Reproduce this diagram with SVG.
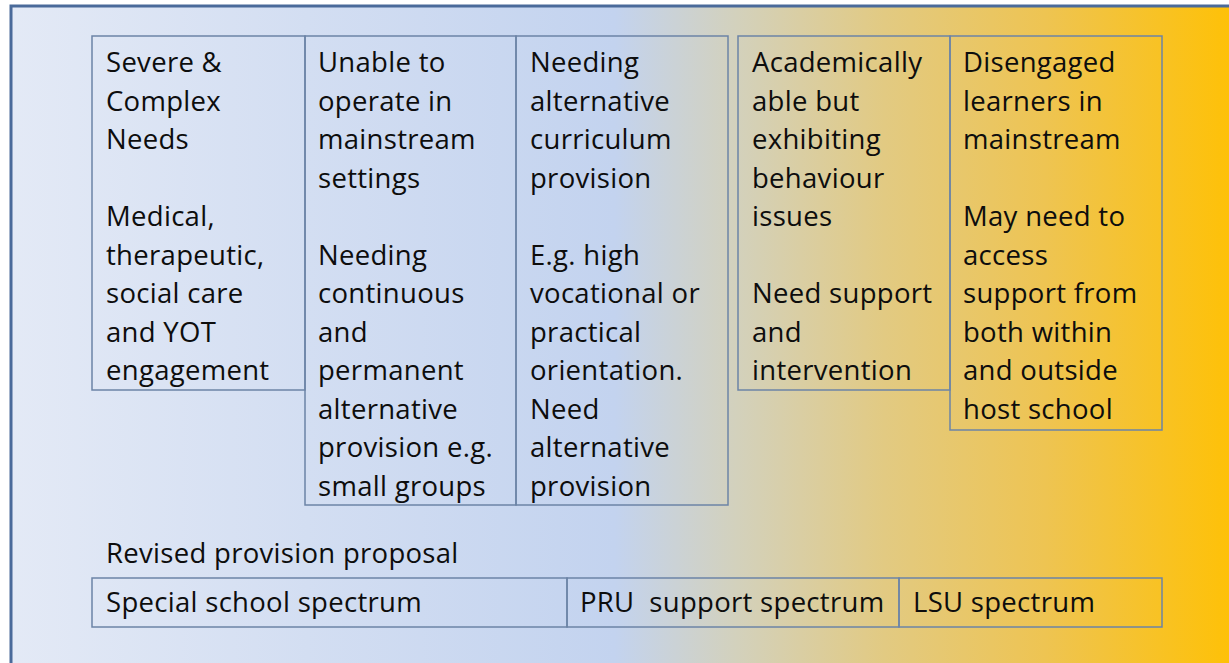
<svg xmlns="http://www.w3.org/2000/svg" width="1229" height="663" viewBox="0 0 1229 663">
  <defs>
    <linearGradient id="bg" x1="0" y1="0" x2="1229" y2="0" gradientUnits="userSpaceOnUse">
      <stop offset="0" stop-color="#E4EAF6"/>
      <stop offset="0.25" stop-color="#D3DEF2"/>
      <stop offset="0.5" stop-color="#C3D3EF"/>
      <stop offset="0.6" stop-color="#D3D1BC"/>
      <stop offset="0.72" stop-color="#E2CA82"/>
      <stop offset="0.85" stop-color="#EEC452"/>
      <stop offset="1" stop-color="#FEC108"/>
    </linearGradient>
  </defs>
  <style>
    .box { fill: none; stroke: #6C84A6; stroke-width: 1.5; }
    .t { font-family: "Open Sans", "DejaVu Sans", sans-serif; font-size: 27.5px; letter-spacing: 0.3px; fill: #0d0d0d; }
  </style>
  <rect x="0" y="0" width="1229" height="663" fill="#FFFFFF"/>
  <rect x="11" y="6" width="1240" height="680" fill="url(#bg)" stroke="#4A6A9A" stroke-width="3"/>

  <g id="node1">
    <rect class="box" x="92" y="36" width="213" height="354"/>
    <text class="t">
      <tspan x="106" y="72">Severe &amp;</tspan>
      <tspan x="106" y="110.5">Complex</tspan>
      <tspan x="106" y="149">Needs</tspan>
      <tspan x="106" y="226">Medical,</tspan>
      <tspan x="106" y="264.5">therapeutic,</tspan>
      <tspan x="106" y="303">social care</tspan>
      <tspan x="106" y="341.5">and YOT</tspan>
      <tspan x="106" y="380">engagement</tspan>
    </text>
  </g>
  <g id="node2">
    <rect class="box" x="305" y="36" width="211" height="469"/>
    <text class="t">
      <tspan x="318" y="72">Unable to</tspan>
      <tspan x="318" y="110.5">operate in</tspan>
      <tspan x="318" y="149">mainstream</tspan>
      <tspan x="318" y="187.5">settings</tspan>
      <tspan x="318" y="264.5">Needing</tspan>
      <tspan x="318" y="303">continuous</tspan>
      <tspan x="318" y="341.5">and</tspan>
      <tspan x="318" y="380">permanent</tspan>
      <tspan x="318" y="418.5">alternative</tspan>
      <tspan x="318" y="457">provision e.g.</tspan>
      <tspan x="318" y="495.5">small groups</tspan>
    </text>
  </g>
  <g id="node3">
    <rect class="box" x="516" y="36" width="212" height="469"/>
    <text class="t">
      <tspan x="530" y="72">Needing</tspan>
      <tspan x="530" y="110.5">alternative</tspan>
      <tspan x="530" y="149">curriculum</tspan>
      <tspan x="530" y="187.5">provision</tspan>
      <tspan x="530" y="264.5">E.g. high</tspan>
      <tspan x="530" y="303">vocational or</tspan>
      <tspan x="530" y="341.5">practical</tspan>
      <tspan x="530" y="380">orientation.</tspan>
      <tspan x="530" y="418.5">Need</tspan>
      <tspan x="530" y="457">alternative</tspan>
      <tspan x="530" y="495.5">provision</tspan>
    </text>
  </g>
  <g id="node4">
    <rect class="box" x="738" y="36" width="212" height="354"/>
    <text class="t">
      <tspan x="752" y="72">Academically</tspan>
      <tspan x="752" y="110.5">able but</tspan>
      <tspan x="752" y="149">exhibiting</tspan>
      <tspan x="752" y="187.5">behaviour</tspan>
      <tspan x="752" y="226">issues</tspan>
      <tspan x="752" y="303">Need support</tspan>
      <tspan x="752" y="341.5">and</tspan>
      <tspan x="752" y="380">intervention</tspan>
    </text>
  </g>
  <g id="node5">
    <rect class="box" x="950" y="36" width="212" height="394"/>
    <text class="t">
      <tspan x="963" y="72">Disengaged</tspan>
      <tspan x="963" y="110.5">learners in</tspan>
      <tspan x="963" y="149">mainstream</tspan>
      <tspan x="963" y="226">May need to</tspan>
      <tspan x="963" y="264.5">access</tspan>
      <tspan x="963" y="303">support from</tspan>
      <tspan x="963" y="341.5">both within</tspan>
      <tspan x="963" y="380">and outside</tspan>
      <tspan x="963" y="418.5">host school</tspan>
    </text>
  </g>

  <g id="proposal-label">
    <text class="t" x="106" y="563">Revised provision proposal</text>
  </g>
  <g id="special">
    <rect class="box" x="92" y="578" width="475" height="49"/>
    <text class="t" x="106" y="612">Special school spectrum</text>
  </g>
  <g id="pru">
    <rect class="box" x="567" y="578" width="332" height="49"/>
    <text class="t" x="580" y="612">PRU&#160; support spectrum</text>
  </g>
  <g id="lsu">
    <rect class="box" x="899" y="578" width="263" height="49"/>
    <text class="t" x="913" y="612">LSU spectrum</text>
  </g>
  <g id="connectors"/>
</svg>
